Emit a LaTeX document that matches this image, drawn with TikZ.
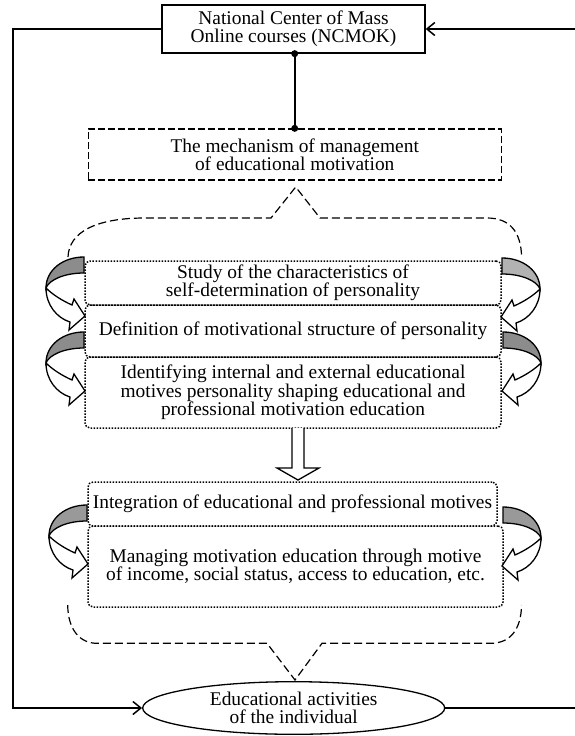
\documentclass[tikz,border=0pt]{standalone}
\usepackage{fontspec}
\setmainfont{Liberation Serif}
\usetikzlibrary{arrows.meta,shapes.geometric}

\tikzset{
  box/.style={draw, line width=1.3pt, inner sep=0pt, align=center,
    font=\fontsize{19.4}{18.4}\selectfont},
  dashbox/.style={box, dash pattern=on 7pt off 3pt},
  dotbox/.style={box, rounded corners=5pt, line width=1.5pt,
    dash pattern=on 1.5pt off 1.5pt},
  brace/.style={line width=1.2pt, dash pattern=on 8pt off 4pt},
  link/.style={line width=1.6pt},
  barb/.style={-{Straight Barb[length=8pt,width=13pt,line width=1.5pt]}},
}

% bent arrow, drawn for the left side; xscale=-1 gives the right one
\newcommand{\bendarrow}[1]{%
  \filldraw[line width=1.3pt, fill=#1] (0,0) .. controls (-21,0) and (-38,13) .. (-38,31)
    .. controls (-35,23) and (-20,16) .. (0,16) -- cycle;
  \filldraw[line width=1.3pt, fill=white] (-38,31) .. controls (-31,38) and (-21,44) .. (-12,48)
    -- (-10,42) -- (1,59) -- (-15,73) -- (-14,65)
    .. controls (-27,61) and (-38,48) .. (-38,31) -- cycle;
}

\begin{document}
\begin{tikzpicture}[x=1pt,y=-1pt]
  \useasboundingbox (0,0) rectangle (574,736);

  % centre and mechanism
  \node[box, minimum width=263, minimum height=48] (ncmok) at (293.5,29)
    {National Center of Mass\\Online courses (NCMOK)};
  \node[dashbox, minimum width=413, minimum height=51] (mech) at (294.7,154.5)
    {The mechanism of management\\of educational motivation};
  \draw[link] (mech.north |- ncmok.south) -- (mech.north);
  \fill (mech.north |- ncmok.south) circle (3.5pt);
  \fill (mech.north) circle (3.5pt);

  % upper brace
  \draw[brace] (68,257) .. controls (69,232) and (96,218) .. (145,218) -- (271,218)
    -- (295.7,187) -- (320,218) -- (487,218) .. controls (510,218) and (521,232) .. (521.6,257);

  % first group of steps
  \node[dotbox, minimum width=416, minimum height=44] (study) at (293,283)
    {Study of the characteristics of\\self-determination of personality};
  \node[dotbox, minimum width=416, minimum height=52] (defn) at (293,331)
    {Definition of motivational structure of personality};
  \node[dotbox, minimum width=416, minimum height=71] (ident) at (293,392.5)
    {Identifying internal and external educational\\motives personality shaping educational and\\professional motivation education};

  % block arrow down
  \draw[line width=1.3pt, fill=white] (292,428) -- (292,468) -- (277,468) -- (298,480)
    -- (319,468) -- (304,468) -- (304,428);

  % second group of steps
  \node[dotbox, minimum width=409, minimum height=44] (integ) at (292.5,504)
    {Integration of educational and professional motives};
  \node[dotbox, minimum width=415, minimum height=81] (manag) at (295.5,566.5)
    {Managing motivation education through motive\\of income, social status, access to education, etc.};

  % bent arrows at the sides
  \foreach \px/\py/\dir/\shade in {84/257/1/black!45, 84/332/1/black!45,
      502/258/-1/black!30, 503/332/-1/black!45, 87/505/1/black!40, 503/507/-1/black!40} {
    \begin{scope}[shift={(\px,\py)}, xscale=\dir]
      \bendarrow{\shade}
    \end{scope}
  }

  % lower brace
  \draw[brace] (67.7,605) .. controls (68,630) and (80,643.3) .. (97,643.3) -- (267,643.3)
    -- (295,680) -- (322,643.3) -- (490.5,643.3) .. controls (510,643.3) and (521,630) .. (521.6,605);

  % activities and feedback loop
  \node[box, ellipse, minimum width=302, minimum height=52.6] (ell) at (293.7,708)
    {Educational activities\\of the individual};
  \coordinate (ltop) at (13,29);
  \coordinate (rtop) at (577,29);
  \draw[link, barb] (ncmok.west) -- (ltop) |- (ell.west);
  \draw[link, barb] (ell.east) -| (rtop) -- (ncmok.east);
\end{tikzpicture}
\end{document}
